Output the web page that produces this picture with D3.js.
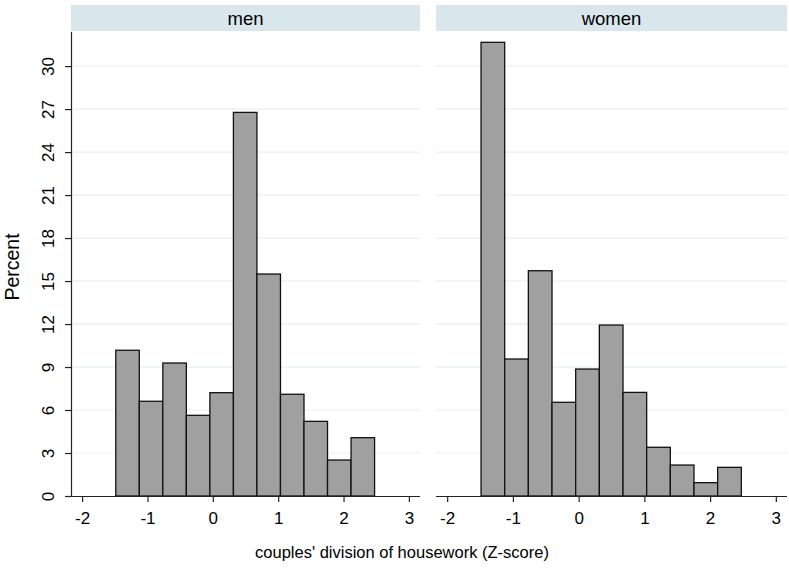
<!DOCTYPE html>
<html><head><meta charset="utf-8">
<script src="https://cdn.jsdelivr.net/npm/d3@7"></script>
<style>body{margin:0;background:#fff;} text{font-family:"Liberation Sans",Arial,sans-serif;}</style>
</head><body>
<svg id="c" width="789" height="568"></svg>
<script>
const panels = ["men", "women"];
const binStart = -1.485;
const binWidth = 0.36;
const menValues = [10.17, 6.61, 9.28, 5.63, 7.21, 26.77, 15.49, 7.1, 5.21, 2.51, 4.07];
const womenValues = [31.66, 9.56, 15.72, 6.54, 8.86, 11.93, 7.23, 3.40, 2.16, 0.93, 2.0];
const yTicks = [0, 3, 6, 9, 12, 15, 18, 21, 24, 27, 30];
const xTicks = [-2, -1, 0, 1, 2, 3];
const seriesValues = [menValues, womenValues];

(function () {
const svg = d3.select("#c");
const plotTop = 32, plotBottom = 496;
const y = d3.scaleLinear().domain([0, 32.38]).range([plotBottom, plotTop]);
const panelX = [[71, 420], [436, 787]];
const fmt = d => String(d).replace("\u2212", "-");

panels.forEach((name, pi) => {
  const [x0, x1] = panelX[pi];
  const x = d3.scaleLinear().domain([-2.17, 3.17]).range([x0, x1]);
  const g = svg.append("g");
  g.append("rect").attr("x", x0).attr("y", 5).attr("width", x1 - x0).attr("height", 26).attr("fill", "#d9e6ec");
  g.append("text").attr("x", (x0 + x1) / 2).attr("y", 24.5).attr("text-anchor", "middle")
    .attr("font-size", 18.5).attr("fill", "#000").text(name);
  g.selectAll(".grid").data(yTicks.filter(d => d > 0)).enter().append("line")
    .attr("x1", x0).attr("x2", x1).attr("y1", d => y(d)).attr("y2", d => y(d))
    .attr("stroke", "#e8f0f2").attr("stroke-width", 1.2);
  const vals = seriesValues[pi];
  g.selectAll(".bar").data(vals).enter().append("rect")
    .attr("x", (d, i) => x(binStart + i * binWidth))
    .attr("width", (d, i) => x(binStart + (i + 1) * binWidth) - x(binStart + i * binWidth))
    .attr("y", d => y(d)).attr("height", d => y(0) - y(d))
    .attr("fill", "#a0a0a0").attr("stroke", "#111").attr("stroke-width", 1.3);
  const xa = g.append("g").attr("transform", `translate(0,${plotBottom})`)
    .call(d3.axisBottom(x).tickValues(xTicks).tickSize(6).tickFormat(fmt));
  xa.select(".domain").attr("d", `M${x0},0.5H${x1}`).attr("stroke", "#222").attr("stroke-width", 1.2);
  xa.selectAll(".tick line").attr("stroke", "#222").attr("stroke-width", 1.2);
  xa.selectAll(".tick text").attr("font-size", 17).attr("fill", "#000").attr("y", 16)
    .attr("font-family", "Liberation Sans, Arial, sans-serif");
  if (pi === 0) {
    const ya = g.append("g").attr("transform", `translate(${x0},0)`)
      .call(d3.axisLeft(y).tickValues(yTicks).tickSize(6));
    ya.select(".domain").attr("d", `M0.5,${plotTop}V${plotBottom}`).attr("stroke", "#222").attr("stroke-width", 1.2);
    ya.selectAll(".tick line").attr("stroke", "#222").attr("stroke-width", 1.2);
    ya.selectAll(".tick text").attr("font-size", 17).attr("fill", "#000")
      .attr("font-family", "Liberation Sans, Arial, sans-serif")
      .attr("transform", "rotate(-90)").attr("x", 0).attr("y", -17).attr("dy", "0")
      .attr("text-anchor", "middle");
  }
});

svg.append("text").attr("x", 402).attr("y", 558).attr("text-anchor", "middle")
  .attr("font-size", 16.5).attr("fill", "#000").text("couples' division of housework (Z-score)");
svg.append("text").attr("transform", "translate(19,267) rotate(-90)").attr("text-anchor", "middle")
  .attr("font-size", 19.5).attr("fill", "#000").text("Percent");
})();
</script>
</body></html>
